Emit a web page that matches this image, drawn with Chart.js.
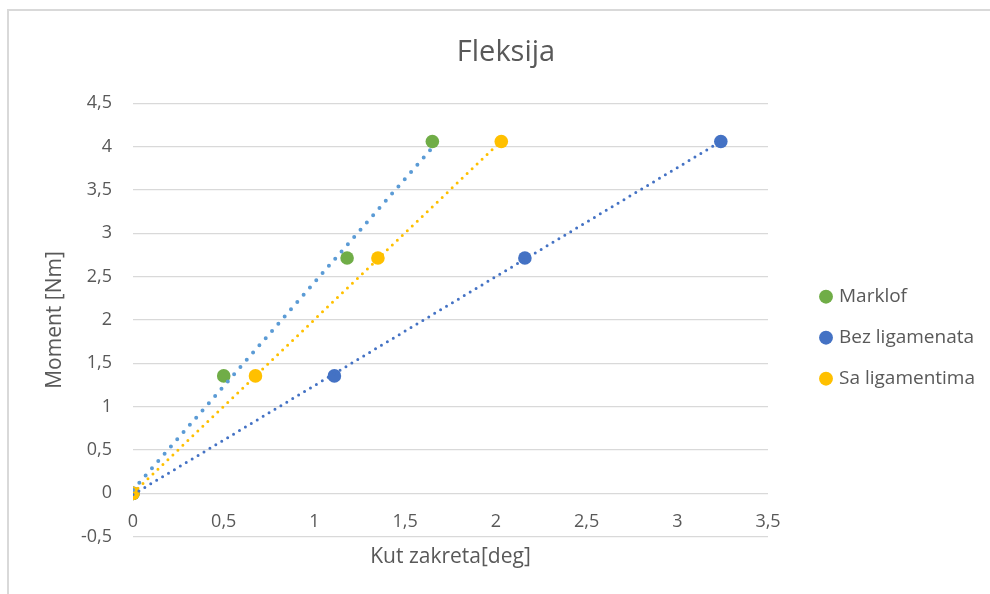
<!DOCTYPE html>
<html>
<head>
<meta charset="utf-8">
<title>Fleksija</title>
<script src="https://cdn.jsdelivr.net/npm/chart.js@4.4.1/dist/chart.umd.min.js"></script>
<style>
  html, body { margin: 0; padding: 0; background: #fff; }
  canvas { display: block; }
</style>
</head>
<body>
<canvas id="chart" width="990" height="594"></canvas>
<script>
// Series names (legend order)
const seriesNames = ['Marklof', 'Bez ligamenata', 'Sa ligamentima'];

// Applied moment [Nm] at each load step (shared by all series)
const moment = [0, 1.355, 2.715, 4.06];

// Rotation angle [deg] per series at each load step
const angleMarklof = [0, 0.50, 1.18, 1.65];
const angleBez = [0, 1.11, 2.16, 3.24];
const angleSa = [0, 0.675, 1.35, 2.03];

// Axis tick values
const xTickValues = [0, 0.5, 1, 1.5, 2, 2.5, 3, 3.5];
const yTickValues = [-0.5, 0, 0.5, 1, 1.5, 2, 2.5, 3, 3.5, 4, 4.5];

const pointColors = ['#70AD47', '#4472C4', '#FFC000'];
const trendColors = ['#5B9BD5', '#4472C4', '#FFC000'];
const TEXT = '#595959';
const FAMILY = '"Open Sans", "Noto Sans", sans-serif';

const angles = [angleMarklof, angleBez, angleSa];

// least-squares linear trendline
function linearFit(xs, ys) {
  const n = xs.length;
  const mx = xs.reduce((a, b) => a + b, 0) / n;
  const my = ys.reduce((a, b) => a + b, 0) / n;
  let sxy = 0, sxx = 0;
  for (let i = 0; i < n; i++) {
    sxy += (xs[i] - mx) * (ys[i] - my);
    sxx += (xs[i] - mx) * (xs[i] - mx);
  }
  const slope = sxy / sxx;
  return { slope, intercept: my - slope * mx };
}

const fmt = v => String(v).replace('.', ',');

// legend sizing: the side paddings are derived from the widest label so the
// plot area keeps fixed edges and the title stays centred on the frame
const legendFontSize = 19;
const legendPad = 22;
const legendBox = 7;
const mctx = document.createElement('canvas').getContext('2d');
mctx.font = legendFontSize + 'px ' + FAMILY;
const legendTextW = Math.max(...seriesNames.map(n => mctx.measureText(n).width));
const padRight = Math.max(-10, 141 - legendTextW);
const padLeft = 22 + padRight;

const pointSets = seriesNames.map((name, i) => ({
  label: name,
  data: angles[i].map((x, k) => ({ x, y: moment[k] })),
  backgroundColor: pointColors[i],
  borderColor: pointColors[i],
  borderWidth: 0,
  pointRadius: 6.8,
  pointHoverRadius: 6.8,
  pointStyle: 'circle',
  showLine: false,
  order: 3 - i
}));

const trendStyles = [
  { width: 4.0, gap: 9.6 },
  { width: 3.0, gap: 6.9 },
  { width: 3.0, gap: 6.9 }
];

const trendSets = seriesNames.map((name, i) => {
  const xs = angles[i];
  const { slope, intercept } = linearFit(xs, moment);
  const x0 = Math.min(...xs), x1 = Math.max(...xs);
  return {
    label: name + ' trend',
    data: [x0, x1].map(x => ({ x, y: intercept + slope * x })),
    showLine: true,
    borderColor: trendColors[i],
    backgroundColor: trendColors[i],
    borderWidth: trendStyles[i].width,
    borderDash: [0, trendStyles[i].gap],
    borderCapStyle: 'round',
    pointRadius: 0,
    pointHoverRadius: 0,
    fill: false,
    order: 0
  };
});

const framePlugin = {
  id: 'frame',
  beforeDraw(chart) {
    const ctx = chart.ctx;
    ctx.save();
    ctx.fillStyle = '#ffffff';
    ctx.fillRect(0, 0, chart.width, chart.height);
    ctx.strokeStyle = '#d9d9d9';
    ctx.lineWidth = 2;
    ctx.beginPath();
    ctx.moveTo(8, chart.height);
    ctx.lineTo(8, 10);
    ctx.lineTo(chart.width, 10);
    ctx.stroke();
    ctx.restore();
  }
};

new Chart(document.getElementById('chart'), {
  type: 'scatter',
  data: { datasets: [...pointSets, ...trendSets] },
  plugins: [framePlugin],
  options: {
    responsive: false,
    animation: false,
    events: [],
    layout: { padding: { left: padLeft, right: padRight, top: 10, bottom: 57.3 } },
    plugins: {
      tooltip: { enabled: false },
      title: {
        display: true,
        text: 'Fleksija',
        color: TEXT,
        font: { family: FAMILY, size: 29, weight: 'normal' },
        padding: { top: 25, bottom: 33.5 }
      },
      legend: {
        position: 'right',
        align: 'center',
        fullSize: false,
        maxWidth: 400,
        title: { display: true, text: '', font: { size: 12 }, padding: { top: 10.5, bottom: 10.5 } },
        labels: {
          usePointStyle: true,
          boxWidth: legendBox,
          boxHeight: 9.8,
          padding: legendPad,
          color: TEXT,
          font: { family: FAMILY, size: legendFontSize },
          filter: item => !item.text.endsWith(' trend'),
          sort: (a, b) => a.datasetIndex - b.datasetIndex
        }
      }
    },
    scales: {
      x: {
        type: 'linear',
        position: { y: 0 },
        min: xTickValues[0],
        max: xTickValues[xTickValues.length - 1],
        afterBuildTicks: s => { s.ticks = xTickValues.map(v => ({ value: v })); },
        grid: { display: false, drawTicks: false },
        border: { display: false },
        ticks: {
          color: TEXT,
          font: { family: FAMILY, size: 18 },
          padding: 18,
          maxRotation: 0,
          autoSkip: false,
          callback: v => fmt(v)
        },
        title: {
          display: true,
          text: 'Kut zakreta[deg]',
          color: TEXT,
          font: { family: FAMILY, size: 21 },
          padding: { top: -6.5, bottom: 0 }
        }
      },
      y: {
        type: 'linear',
        position: 'left',
        min: yTickValues[0],
        max: yTickValues[yTickValues.length - 1],
        afterBuildTicks: s => { s.ticks = yTickValues.map(v => ({ value: v })); },
        afterFit: s => { s.width = 133 - padLeft; },
        grid: { color: '#d9d9d9', lineWidth: 1.3, drawTicks: false },
        border: { display: false },
        ticks: {
          color: TEXT,
          font: { family: FAMILY, size: 18 },
          padding: 21,
          autoSkip: false,
          callback: v => fmt(v)
        },
        title: {
          display: true,
          text: 'Moment [Nm]',
          color: TEXT,
          font: { family: FAMILY, size: 21 },
          padding: { top: 55 - padLeft - 12.6, bottom: 0 }
        }
      },
      gap: {
        type: 'linear',
        position: 'right',
        display: true,
        afterFit: s => { s.width = 32.5; },
        grid: { display: false, drawTicks: false },
        border: { display: false },
        ticks: { display: false }
      }
    }
  }
});
</script>
</body>
</html>
